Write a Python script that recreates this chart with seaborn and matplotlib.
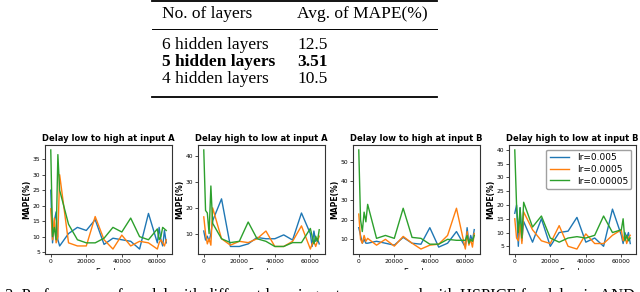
import numpy as np
import pandas as pd
import matplotlib
matplotlib.use("Agg")
import matplotlib.pyplot as plt
from matplotlib.lines import Line2D
from matplotlib.patches import Rectangle
import seaborn as sns

# table data
layer_names = ["6 hidden layers", "5 hidden layers", "4 hidden layers"]
avg_mape = ["12.5", "3.51", "10.5"]
best_row = 1

# training curves (epochs vs MAPE %) for three learning rates
epochs = [0, 1000, 2000, 3000, 4000, 5000, 10000, 15000, 20000, 25000, 30000,
          35000, 40000, 45000, 50000, 55000, 60000, 61000, 62000, 63000, 64000, 65000]
lr_labels = ["lr=0.005", "lr=0.0005", "lr=0.00005"]
titles = ["Delay low to high at input A", "Delay high to low at input A",
          "Delay low to high at input B", "Delay high to low at input B"]

lh_a_005 = [25, 8, 15, 18, 9, 7, 11, 13, 12, 15.5, 7.5, 9.5, 9, 8.5, 6, 17.5, 8, 13, 9, 7, 12, 8]
lh_a_0005 = [19, 9, 16, 8, 10, 30, 8, 7, 7, 16.5, 9, 6, 10.5, 7, 8.5, 8, 6, 8, 9, 8, 7, 9]
lh_a_00005 = [38, 10, 13, 9, 36.5, 25, 14, 9, 8, 8, 9.5, 13, 11.5, 16, 10, 9, 12.5, 9, 10, 13, 12.5, 12]

hl_a_005 = [11, 7.5, 9, 7, 10, 15, 23.5, 5, 5, 6, 8.5, 8, 8, 9.5, 7.5, 18, 10, 5, 11, 7, 8, 6]
hl_a_0005 = [16.5, 10, 6, 8, 5.5, 20, 8, 5.5, 7, 6.5, 8, 11, 5, 5, 7, 13, 4, 6, 7, 5, 7, 9]
hl_a_00005 = [42.5, 19, 18, 10, 28.5, 14, 8, 6.5, 7, 14.5, 8, 7, 5, 5, 6.5, 6.5, 12, 9, 6, 9, 7, 11.5]

lh_b_005 = [16, 12, 8, 10, 8, 8, 9, 8, 7, 11, 8, 7.5, 16, 6, 8, 14, 6, 16, 8, 12, 9, 15]
lh_b_0005 = [23, 10, 8, 12, 9, 10.5, 7, 10, 6.5, 11.5, 8, 5, 7, 7.5, 12, 26, 5, 14, 7, 10, 6, 13]
lh_b_00005 = [56, 20, 14, 24, 19, 28, 10.5, 12, 10.5, 26, 11, 10.5, 7.5, 7.5, 10, 9.5, 9.5, 12, 8, 10, 9, 12]

hl_b_005 = [17, 20, 5, 19, 7, 14, 6.5, 15, 5, 10, 10.5, 15.5, 6.5, 8, 5, 18.5, 9, 6, 10, 8, 10, 6]
hl_b_0005 = [15, 8, 7, 13, 6, 17.5, 11, 7, 6, 12.5, 5, 4, 9.5, 6, 6, 9, 11, 7, 9, 6, 8, 9]
hl_b_00005 = [40, 20, 10, 19, 8, 21, 12, 16, 8, 6.5, 8, 8.5, 8, 9, 16, 10, 11, 15, 7, 9, 7, 8]

panels = [
    [lh_a_005, lh_a_0005, lh_a_00005],
    [hl_a_005, hl_a_0005, hl_a_00005],
    [lh_b_005, lh_b_0005, lh_b_00005],
    [hl_b_005, hl_b_0005, hl_b_00005],
]
yticks = [[5, 10, 15, 20, 25, 30, 35], [10, 20, 30, 40],
          [10, 20, 30, 40, 50], [5, 10, 15, 20, 25, 30, 35, 40]]

fig = plt.figure(figsize=(6.4, 2.92), dpi=100)
W, H = 640, 292

def fy(py):
    return 1 - py / H

# --- table ---
serif = ["Liberation Serif", "DejaVu Serif"]
x0, x1 = 152 / W, 437 / W
fig.add_artist(Line2D([x0, x1], [fy(1), fy(1)], color="black", lw=1.3))
fig.add_artist(Line2D([x0, x1], [fy(29), fy(29)], color="black", lw=0.7))
fig.add_artist(Line2D([x0, x1], [fy(97), fy(97)], color="black", lw=1.3))
fig.text(162 / W, fy(14), "No. of layers", family=serif, fontsize=12.5, va="center")
fig.text(297 / W, fy(14), "Avg. of MAPE(%)", family=serif, fontsize=12.5, va="center")
for i, (name, val) in enumerate(zip(layer_names, avg_mape)):
    w = "bold" if i == best_row else "normal"
    fig.text(162 / W, fy(45 + 17 * i), name, family=serif, fontsize=12.5, va="center", weight=w)
    fig.text(297 / W, fy(45 + 17 * i), val, family=serif, fontsize=12.5, va="center", weight=w)

# --- curves ---
lefts = [45, 198, 353, 509]
pal = sns.color_palette("tab10", 3)
for k, (left, series) in enumerate(zip(lefts, panels)):
    ax = fig.add_axes([left / W, fy(254), 127 / W, 109 / H])
    df = pd.DataFrame({
        "epoch": epochs * 3,
        "mape": series[0] + series[1] + series[2],
        "lr": sum([[lab] * len(epochs) for lab in lr_labels], []),
    })
    sns.lineplot(data=df, x="epoch", y="mape", hue="lr", palette=pal, ax=ax,
                 lw=1.0, legend=(k == 3))
    ax.set_title(titles[k], fontsize=6, weight="bold", pad=3)
    ax.set_ylabel("MAPE(%)", fontsize=5.5, weight="bold", labelpad=1)
    ax.set_xlabel("Epochs", fontsize=5.5, labelpad=3)
    ax.set_xticks([0, 20000, 40000, 60000])
    ax.set_yticks(yticks[k])
    ax.tick_params(labelsize=4.3, length=2, width=0.5, pad=1.5)
    for s in ax.spines.values():
        s.set_linewidth(0.8)
        s.set_color("#333333")
    if k == 3:
        leg = ax.legend(loc="upper right", fontsize=6.5, frameon=True, handlelength=2.2,
                        borderpad=0.4, labelspacing=0.3)
        leg.get_frame().set_edgecolor("#888888")

# screenshot crop below axes and caption
fig.add_artist(Rectangle((0, 0), 1, fy(270), transform=fig.transFigure,
                         facecolor="white", edgecolor="none", zorder=5))
fig.text(-25 / W, fy(288.5), "Fig. 2. Performance of model with different learning rates compared with HSPICE for delay in AND gate",
         family=serif, fontsize=11.8, va="top", zorder=6)

fig.savefig("out.png", dpi=100)
